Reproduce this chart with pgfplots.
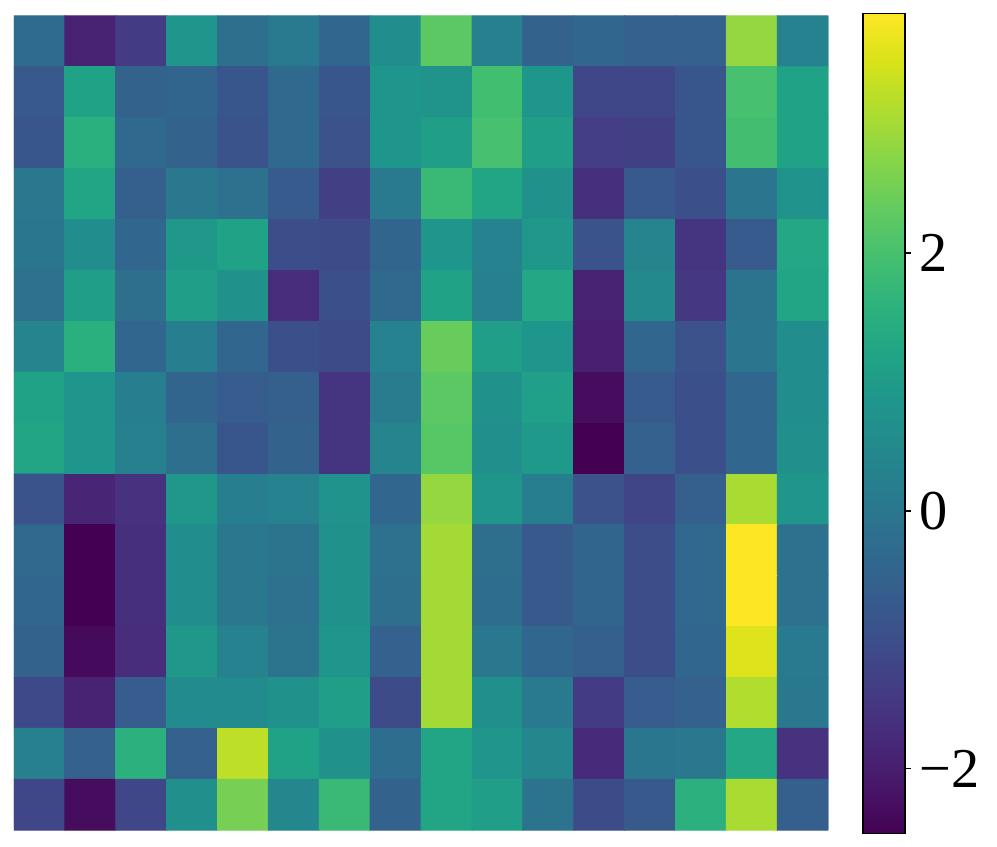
\documentclass[border=0pt]{standalone}
\usepackage{fontspec}
\setmainfont{Liberation Serif}
\usepackage{pgfplots}
\pgfplotsset{compat=1.18}

\begin{document}
\begin{tikzpicture}
\begin{axis}[
  name=main,
  scale only axis, width=325.7pt, height=325.7pt,
  hide axis,
  enlargelimits=false,
  xmin=-0.5, xmax=15.5, ymin=-0.5, ymax=15.5,
  y dir=reverse,
  colormap/viridis,
  point meta min=-2.50, point meta max=3.86,
  colorbar,
  colorbar/width=16.9pt,
  colorbar style={
    at={(parent axis.north east)}, anchor=north west,
    xshift=5.3pt, yshift=1.08pt,
    height=328pt,
    ytick={-2,0,2}, yticklabels={−2,0,2},
    ytick pos=right, yticklabel pos=right,
    tick align=outside, major tick length=2.4pt,
    tick style={black, line width=0.5pt},
    axis line style={black, line width=0.6pt},
    yticklabel style={font=\fontsize{22.5}{27}\selectfont},
  },
]
\addplot[matrix plot*, mesh/cols=16, point meta=explicit] coordinates {
(0,0) [-0.3] (1,0) [-1.9] (2,0) [-1.4] (3,0) [0.8] (4,0) [-0.2] (5,0) [0.1] (6,0) [-0.4] (7,0) [0.6] (8,0) [2.25] (9,0) [0.25] (10,0) [-0.5] (11,0) [-0.4] (12,0) [-0.55] (13,0) [-0.55] (14,0) [2.85] (15,0) [0.3]
(0,1) [-0.75] (1,1) [1.15] (2,1) [-0.5] (3,1) [-0.45] (4,1) [-0.8] (5,1) [-0.35] (6,1) [-0.8] (7,1) [0.85] (8,1) [0.78] (9,1) [1.93] (10,1) [0.85] (11,1) [-1.15] (12,1) [-1.15] (13,1) [-0.8] (14,1) [2.0] (15,1) [1.15]
(0,2) [-0.8] (1,2) [1.5] (2,2) [-0.35] (3,2) [-0.5] (4,2) [-0.85] (5,2) [-0.35] (6,2) [-0.9] (7,2) [0.85] (8,2) [1.05] (9,2) [2.0] (10,2) [1.05] (11,2) [-1.35] (12,2) [-1.3] (13,2) [-0.8] (14,2) [1.95] (15,2) [1.15]
(0,3) [0.05] (1,3) [1.25] (2,3) [-0.6] (3,3) [0.05] (4,3) [-0.15] (5,3) [-0.7] (6,3) [-1.3] (7,3) [0.1] (8,3) [1.8] (9,3) [1.25] (10,3) [0.7] (11,3) [-1.65] (12,3) [-0.75] (13,3) [-0.95] (14,3) [-0.05] (15,3) [0.75]
(0,4) [0.0] (1,4) [0.6] (2,4) [-0.4] (3,4) [0.9] (4,4) [1.15] (5,4) [-1.0] (6,4) [-1.05] (7,4) [-0.45] (8,4) [0.85] (9,4) [0.3] (10,4) [0.9] (11,4) [-0.85] (12,4) [0.35] (13,4) [-1.55] (14,4) [-0.7] (15,4) [1.3]
(0,5) [-0.15] (1,5) [1.05] (2,5) [-0.2] (3,5) [1.05] (4,5) [0.7] (5,5) [-1.7] (6,5) [-0.95] (7,5) [-0.35] (8,5) [1.15] (9,5) [0.25] (10,5) [1.3] (11,5) [-1.9] (12,5) [0.5] (13,5) [-1.5] (14,5) [-0.1] (15,5) [1.25]
(0,6) [0.35] (1,6) [1.5] (2,6) [-0.4] (3,6) [0.2] (4,6) [-0.4] (5,6) [-0.95] (6,6) [-1.05] (7,6) [0.3] (8,6) [2.4] (9,6) [1.05] (10,6) [0.85] (11,6) [-1.95] (12,6) [-0.4] (13,6) [-0.9] (14,6) [-0.05] (15,6) [0.6]
(0,7) [1.15] (1,7) [0.8] (2,7) [0.2] (3,7) [-0.45] (4,7) [-0.65] (5,7) [-0.6] (6,7) [-1.55] (7,7) [0.15] (8,7) [2.25] (9,7) [0.7] (10,7) [1.1] (11,7) [-2.3] (12,7) [-0.7] (13,7) [-0.95] (14,7) [-0.4] (15,7) [0.6]
(0,8) [1.25] (1,8) [0.85] (2,8) [0.25] (3,8) [-0.2] (4,8) [-0.8] (5,8) [-0.5] (6,8) [-1.55] (7,8) [0.35] (8,8) [2.2] (9,8) [0.65] (10,8) [0.95] (11,8) [-2.5] (12,8) [-0.55] (13,8) [-0.95] (14,8) [-0.4] (15,8) [0.65]
(0,9) [-0.85] (1,9) [-1.85] (2,9) [-1.6] (3,9) [0.9] (4,9) [0.2] (5,9) [0.3] (6,9) [0.75] (7,9) [-0.4] (8,9) [2.85] (9,9) [0.8] (10,9) [0.2] (11,9) [-0.9] (12,9) [-1.2] (13,9) [-0.6] (14,9) [3.05] (15,9) [0.8]
(0,10) [-0.35] (1,10) [-2.5] (2,10) [-1.65] (3,10) [0.6] (4,10) [0.05] (5,10) [-0.1] (6,10) [0.7] (7,10) [-0.15] (8,10) [3.0] (9,10) [-0.2] (10,10) [-0.75] (11,10) [-0.45] (12,10) [-1.0] (13,10) [-0.35] (14,10) [3.86] (15,10) [-0.15]
(0,11) [-0.4] (1,11) [-2.5] (2,11) [-1.65] (3,11) [0.6] (4,11) [0.05] (5,11) [-0.15] (6,11) [0.7] (7,11) [-0.2] (8,11) [3.0] (9,11) [-0.25] (10,11) [-0.75] (11,11) [-0.45] (12,11) [-1.0] (13,11) [-0.35] (14,11) [3.86] (15,11) [-0.15]
(0,12) [-0.5] (1,12) [-2.35] (2,12) [-1.7] (3,12) [0.9] (4,12) [0.3] (5,12) [-0.1] (6,12) [0.85] (7,12) [-0.55] (8,12) [3.0] (9,12) [0.05] (10,12) [-0.4] (11,12) [-0.6] (12,12) [-1.0] (13,12) [-0.4] (14,12) [3.55] (15,12) [0.1]
(0,13) [-1.1] (1,13) [-1.9] (2,13) [-0.65] (3,13) [0.55] (4,13) [0.55] (5,13) [0.7] (6,13) [1.05] (7,13) [-1.05] (8,13) [3.0] (9,13) [0.65] (10,13) [0.1] (11,13) [-1.4] (12,13) [-0.65] (13,13) [-0.55] (14,13) [3.12] (15,13) [0.05]
(0,14) [0.25] (1,14) [-0.55] (2,14) [1.55] (3,14) [-0.55] (4,14) [3.25] (5,14) [1.15] (6,14) [0.7] (7,14) [-0.25] (8,14) [1.25] (9,14) [0.8] (10,14) [0.45] (11,14) [-1.75] (12,14) [0.0] (13,14) [0.05] (14,14) [1.3] (15,14) [-1.6]
(0,15) [-1.15] (1,15) [-2.3] (2,15) [-1.15] (3,15) [0.65] (4,15) [2.55] (5,15) [0.45] (6,15) [1.8] (7,15) [-0.5] (8,15) [1.25] (9,15) [1.05] (10,15) [-0.1] (11,15) [-1.05] (12,15) [-0.75] (13,15) [1.55] (14,15) [3.05] (15,15) [-0.6]
};
\end{axis}
\pgfresetboundingbox
\path ([xshift=-5.6pt,yshift=6.4pt]main.north west) rectangle ([xshift=393.2pt,yshift=-332.4pt]main.north west);
\end{tikzpicture}
\end{document}
